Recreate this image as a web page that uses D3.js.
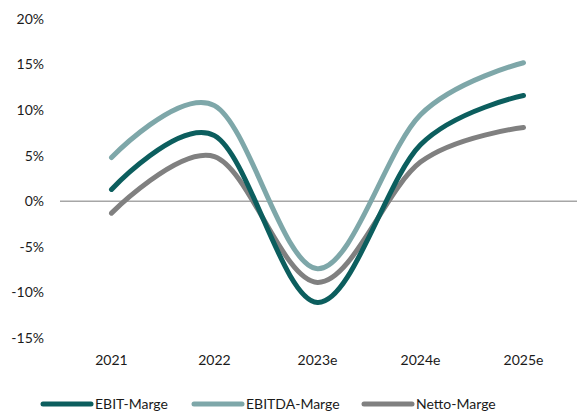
<html>
<head>
    <script src="https://d3js.org/d3.v7.min.js"></script>
    <style>
        body { margin: 0; background: #fff; }
        text { font-family: Lato, "Open Sans", sans-serif; fill: #1a1a1a; }
    </style>
</head>
<body>
<div id="vis"></div>
<script>
    // chart data
    var years = ["2021", "2022", "2023e", "2024e", "2025e"];
    var ebit = [1.3, 7.2, -11.1, 6.2, 11.6];
    var ebitda = [4.8, 10.5, -7.4, 9.5, 15.2];
    var netto = [-1.3, 4.9, -8.9, 4.3, 8.1];
    var yTicks = [-15, -10, -5, 0, 5, 10, 15, 20];

    var series = [
        { name: "EBIT-Marge", values: ebit, color: "#0c5e5e" },
        { name: "EBITDA-Marge", values: ebitda, color: "#7ea7a9" },
        { name: "Netto-Marge", values: netto, color: "#808080" }
    ];

    var W = 579, H = 419;
    var svg = d3.select("#vis").append("svg")
        .attr("width", W)
        .attr("height", H);

    var x = d3.scalePoint()
        .domain(years)
        .range([111.5, 523.5]);

    var y = d3.scaleLinear()
        .domain([-15, 20])
        .range([338, 19]);

    // y tick labels
    svg.append("g").selectAll("text")
        .data(yTicks)
        .enter()
        .append("text")
        .attr("x", 44)
        .attr("y", function (d) { return y(d); })
        .attr("dy", "0.35em")
        .attr("text-anchor", "end")
        .style("font-size", "14px")
        .text(function (d) { return d + "%"; });

    // zero line
    svg.append("line")
        .attr("x1", 60).attr("x2", 577)
        .attr("y1", y(0)).attr("y2", y(0))
        .attr("stroke", "#a6a6a6")
        .attr("stroke-width", 1.5);

    // x labels
    svg.append("g").selectAll("text")
        .data(years)
        .enter()
        .append("text")
        .attr("x", function (d) { return x(d); })
        .attr("y", 365)
        .attr("text-anchor", "middle")
        .style("font-size", "14px")
        .text(function (d) { return d; });

    var line = d3.line()
        .x(function (d, i) { return x(years[i]); })
        .y(function (d) { return y(d); })
        .curve(d3.curveCardinal.tension(0));

    // draw netto first so the others sit on top
    [series[2], series[1], series[0]].forEach(function (s) {
        svg.append("path")
            .attr("d", line(s.values))
            .attr("fill", "none")
            .attr("stroke", s.color)
            .attr("stroke-width", 5)
            .attr("stroke-linecap", "round");
    });

    // legend
    var legendX = [43, 194, 364];
    var leg = svg.append("g").selectAll("g")
        .data(series)
        .enter()
        .append("g")
        .attr("transform", function (d, i) { return "translate(" + legendX[i] + ",404)"; });

    leg.append("line")
        .attr("x1", 0).attr("x2", 48)
        .attr("stroke", function (d) { return d.color; })
        .attr("stroke-width", 5)
        .attr("stroke-linecap", "round");

    leg.append("text")
        .attr("x", 52)
        .attr("dy", "0.35em")
        .style("font-size", "14px")
        .text(function (d) { return d.name; });
</script>
</body>
</html>
